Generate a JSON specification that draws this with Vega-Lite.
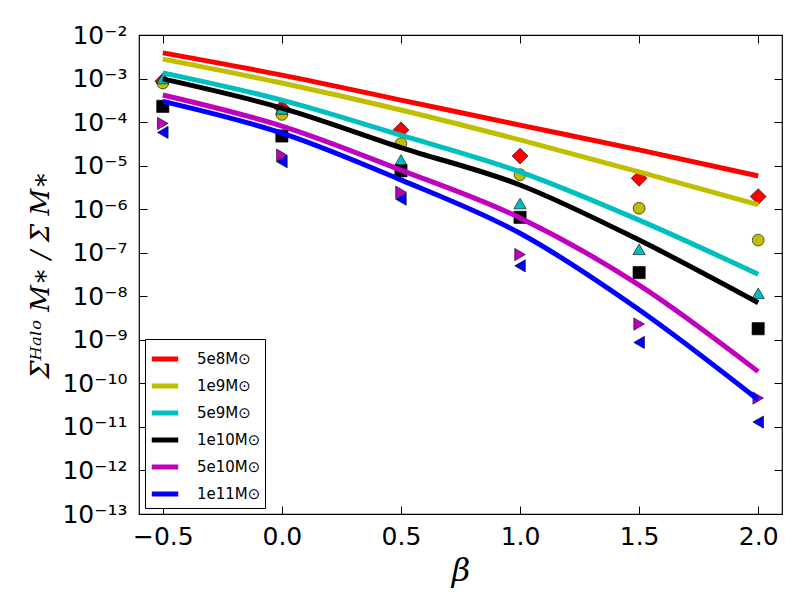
{
  "$schema": "https://vega.github.io/schema/vega-lite/v6.json",
  "width": 643,
  "height": 479,
  "autosize": {"type": "none"},
  "padding": {"left": 139, "top": 35, "right": 18, "bottom": 86},
  "background": "white",
  "config": {
    "view": {"stroke": "black", "strokeWidth": 1.2},
    "font": "DejaVu Sans",
    "axis": {"grid": false, "domain": false, "tickColor": "black", "tickWidth": 1, "labelColor": "black", "titleColor": "black"}
  },
  "datasets": {
    "curves": [
      {"mass": "5e8M⊙", "beta": -0.5, "ratio": 3.9e-3},
      {"mass": "5e8M⊙", "beta": 0.0, "ratio": 1.2e-3},
      {"mass": "5e8M⊙", "beta": 0.5, "ratio": 3.2e-4},
      {"mass": "5e8M⊙", "beta": 1.0, "ratio": 8.5e-5},
      {"mass": "5e8M⊙", "beta": 1.5, "ratio": 2.3e-5},
      {"mass": "5e8M⊙", "beta": 2.0, "ratio": 5.8e-6},
      {"mass": "1e9M⊙", "beta": -0.5, "ratio": 2.8e-3},
      {"mass": "1e9M⊙", "beta": 0.0, "ratio": 7.9e-4},
      {"mass": "1e9M⊙", "beta": 0.5, "ratio": 1.9e-4},
      {"mass": "1e9M⊙", "beta": 1.0, "ratio": 3.9e-5},
      {"mass": "1e9M⊙", "beta": 1.5, "ratio": 7.2e-6},
      {"mass": "1e9M⊙", "beta": 2.0, "ratio": 1.26e-6},
      {"mass": "5e9M⊙", "beta": -0.5, "ratio": 1.35e-3},
      {"mass": "5e9M⊙", "beta": 0.0, "ratio": 3.2e-4},
      {"mass": "5e9M⊙", "beta": 0.5, "ratio": 5.0e-5},
      {"mass": "5e9M⊙", "beta": 1.0, "ratio": 7.2e-6},
      {"mass": "5e9M⊙", "beta": 1.5, "ratio": 5.6e-7},
      {"mass": "5e9M⊙", "beta": 2.0, "ratio": 3.2e-8},
      {"mass": "1e10M⊙", "beta": -0.5, "ratio": 9.8e-4},
      {"mass": "1e10M⊙", "beta": 0.0, "ratio": 2.1e-4},
      {"mass": "1e10M⊙", "beta": 0.5, "ratio": 2.6e-5},
      {"mass": "1e10M⊙", "beta": 1.0, "ratio": 3.6e-6},
      {"mass": "1e10M⊙", "beta": 1.5, "ratio": 1.95e-7},
      {"mass": "1e10M⊙", "beta": 2.0, "ratio": 7.1e-9},
      {"mass": "5e10M⊙", "beta": -0.5, "ratio": 4.2e-4},
      {"mass": "5e10M⊙", "beta": 0.0, "ratio": 8.1e-5},
      {"mass": "5e10M⊙", "beta": 0.5, "ratio": 7.9e-6},
      {"mass": "5e10M⊙", "beta": 1.0, "ratio": 6.3e-7},
      {"mass": "5e10M⊙", "beta": 1.5, "ratio": 1.8e-8},
      {"mass": "5e10M⊙", "beta": 2.0, "ratio": 1.86e-10},
      {"mass": "1e11M⊙", "beta": -0.5, "ratio": 3.0e-4},
      {"mass": "1e11M⊙", "beta": 0.0, "ratio": 5.6e-5},
      {"mass": "1e11M⊙", "beta": 0.5, "ratio": 4.7e-6},
      {"mass": "1e11M⊙", "beta": 1.0, "ratio": 2.8e-7},
      {"mass": "1e11M⊙", "beta": 1.5, "ratio": 4.9e-9},
      {"mass": "1e11M⊙", "beta": 2.0, "ratio": 4.2e-11}
    ],
    "measured": [
      {"mass": "5e8M⊙", "beta": -0.5, "ratio": 8.7e-4},
      {"mass": "5e8M⊙", "beta": 0.0, "ratio": 2.1e-4},
      {"mass": "5e8M⊙", "beta": 0.5, "ratio": 6.6e-5},
      {"mass": "5e8M⊙", "beta": 1.0, "ratio": 1.66e-5},
      {"mass": "5e8M⊙", "beta": 1.5, "ratio": 5.1e-6},
      {"mass": "5e8M⊙", "beta": 2.0, "ratio": 1.95e-6},
      {"mass": "1e9M⊙", "beta": -0.5, "ratio": 7.9e-4},
      {"mass": "1e9M⊙", "beta": 0.0, "ratio": 1.5e-4},
      {"mass": "1e9M⊙", "beta": 0.5, "ratio": 3.2e-5},
      {"mass": "1e9M⊙", "beta": 1.0, "ratio": 6.2e-6},
      {"mass": "1e9M⊙", "beta": 1.5, "ratio": 1.05e-6},
      {"mass": "1e9M⊙", "beta": 2.0, "ratio": 1.95e-7},
      {"mass": "5e9M⊙", "beta": -0.5, "ratio": 1.0e-3},
      {"mass": "5e9M⊙", "beta": 0.0, "ratio": 2.0e-4},
      {"mass": "5e9M⊙", "beta": 0.5, "ratio": 1.35e-5},
      {"mass": "5e9M⊙", "beta": 1.0, "ratio": 1.35e-6},
      {"mass": "5e9M⊙", "beta": 1.5, "ratio": 1.2e-7},
      {"mass": "5e9M⊙", "beta": 2.0, "ratio": 1.17e-8},
      {"mass": "1e10M⊙", "beta": -0.5, "ratio": 2.3e-4},
      {"mass": "1e10M⊙", "beta": 0.0, "ratio": 4.8e-5},
      {"mass": "1e10M⊙", "beta": 0.5, "ratio": 7.6e-6},
      {"mass": "1e10M⊙", "beta": 1.0, "ratio": 6.5e-7},
      {"mass": "1e10M⊙", "beta": 1.5, "ratio": 3.5e-8},
      {"mass": "1e10M⊙", "beta": 2.0, "ratio": 1.8e-9},
      {"mass": "5e10M⊙", "beta": -0.5, "ratio": 9.3e-5},
      {"mass": "5e10M⊙", "beta": 0.0, "ratio": 1.74e-5},
      {"mass": "5e10M⊙", "beta": 0.5, "ratio": 2.45e-6},
      {"mass": "5e10M⊙", "beta": 1.0, "ratio": 9.1e-8},
      {"mass": "5e10M⊙", "beta": 1.5, "ratio": 2.3e-9},
      {"mass": "5e10M⊙", "beta": 2.0, "ratio": 4.6e-11},
      {"mass": "1e11M⊙", "beta": -0.5, "ratio": 5.8e-5},
      {"mass": "1e11M⊙", "beta": 0.0, "ratio": 1.23e-5},
      {"mass": "1e11M⊙", "beta": 0.5, "ratio": 1.7e-6},
      {"mass": "1e11M⊙", "beta": 1.0, "ratio": 5.0e-8},
      {"mass": "1e11M⊙", "beta": 1.5, "ratio": 8.7e-10},
      {"mass": "1e11M⊙", "beta": 2.0, "ratio": 1.29e-11}
    ]
  },
  "resolve": {
    "axis": {"x": "independent", "y": "independent"},
    "legend": {"color": "independent", "shape": "independent", "size": "independent"}
  },
  "layer": [
    {
      "data": {"name": "measured"},
      "mark": {"type": "point", "filled": true, "stroke": "black", "strokeWidth": 0.6, "opacity": 1},
      "encoding": {
        "x": {
          "field": "beta", "type": "quantitative",
          "scale": {"domain": [-0.6, 2.1], "nice": false, "zero": false},
          "axis": {
            "orient": "bottom", "values": [-0.5, 0, 0.5, 1, 1.5, 2], "format": ".1f",
            "labelExpr": "replace(datum.label, '-', '−')",
            "offset": -8, "tickSize": 8, "labelPadding": 10, "labelFontSize": 25, "labelFlush": false,
            "title": "β", "titleFont": "DejaVu Serif", "titleFontStyle": "italic", "titleFontWeight": "normal",
            "titleFontSize": 32, "titlePadding": 6
          }
        },
        "y": {
          "field": "ratio", "type": "quantitative",
          "scale": {"type": "log", "domain": [1e-13, 1e-2], "nice": false},
          "axis": {
            "orient": "left",
            "values": [1e-13, 1e-12, 1e-11, 1e-10, 1e-9, 1e-8, 1e-7, 1e-6, 1e-5, 1e-4, 1e-3, 1e-2],
            "labelExpr": "'10⁻' + ((-round(log(datum.value)/LN10)) >= 10 ? '¹' : '') + ['⁰','¹','²','³','⁴','⁵','⁶','⁷','⁸','⁹'][(-round(log(datum.value)/LN10)) % 10]",
            "offset": -8, "tickSize": 8, "labelPadding": 12, "labelFontSize": 25, "labelFlush": false,
            "title": "Σᴴᵃˡᵒ M∗ / Σ M∗", "titleFont": "DejaVu Serif", "titleFontStyle": "italic", "titleFontWeight": "normal",
            "titleFontSize": 26, "titlePadding": 8
          }
        },
        "color": {"field": "mass", "type": "nominal", "legend": null,
          "scale": {"domain": ["5e8M⊙", "1e9M⊙", "5e9M⊙", "1e10M⊙", "5e10M⊙", "1e11M⊙"],
                    "range": ["#ff0000", "#bfbf00", "#00bfbf", "#000000", "#bf00bf", "#0000ff"]}},
        "shape": {"field": "mass", "type": "nominal", "legend": null,
          "scale": {"domain": ["5e8M⊙", "1e9M⊙", "5e9M⊙", "1e10M⊙", "5e10M⊙", "1e11M⊙"],
                    "range": ["diamond", "circle", "triangle-up", "square", "triangle-right", "triangle-left"]}},
        "size": {"field": "mass", "type": "nominal", "legend": null,
          "scale": {"type": "ordinal", "domain": ["5e8M⊙", "1e9M⊙", "5e9M⊙", "1e10M⊙", "5e10M⊙", "1e11M⊙"],
                    "range": [250, 140, 150, 150, 150, 150]}}
      }
    },
    {
      "data": {"name": "curves"},
      "mark": {"type": "line", "strokeWidth": 5, "interpolate": "monotone"},
      "encoding": {
        "x": {
          "field": "beta", "type": "quantitative",
          "axis": {"orient": "top", "values": [-0.5, 0, 0.5, 1, 1.5, 2], "labels": false, "offset": -8, "tickSize": 8, "title": null}
        },
        "y": {
          "field": "ratio", "type": "quantitative",
          "axis": {
            "orient": "right", "labels": false, "title": null, "offset": -8, "tickSize": 8,
            "values": [1e-13, 1e-12, 1e-11, 1e-10, 1e-9, 1e-8, 1e-7, 1e-6, 1e-5, 1e-4, 1e-3, 1e-2]
          }
        },
        "color": {
          "field": "mass", "type": "nominal",
          "legend": {
            "title": null, "orient": "bottom-left", "offset": 6,
            "symbolType": "stroke", "symbolSize": 700, "symbolStrokeWidth": 5,
            "labelFontSize": 15, "labelColor": "black", "labelOffset": 16, "rowPadding": 1,
            "strokeColor": "black", "fillColor": "white", "padding": 4
          }
        }
      }
    }
  ]
}
